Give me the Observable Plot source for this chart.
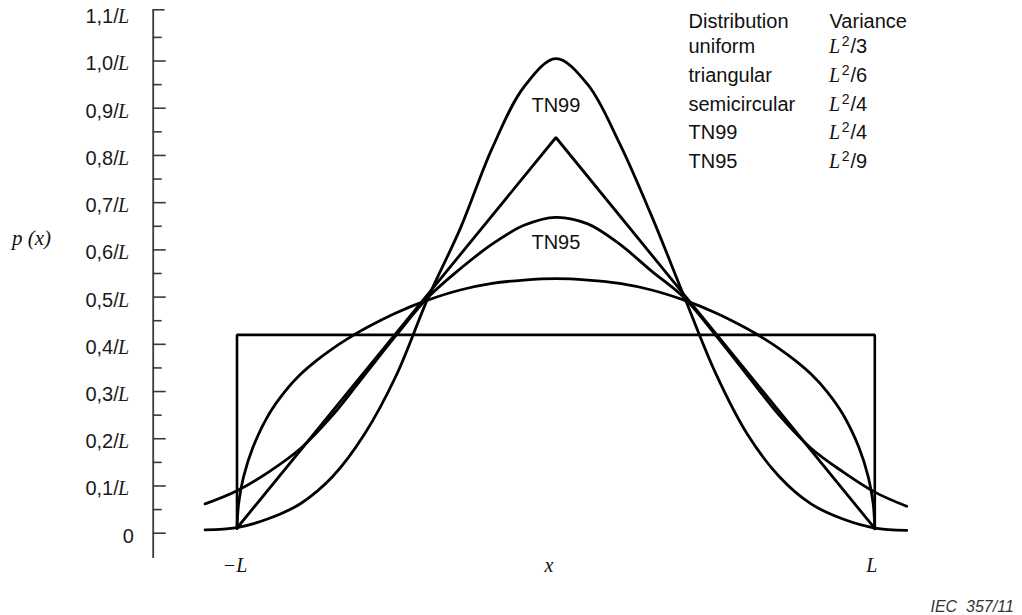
<!DOCTYPE html>
<html>
<head>
<meta charset="utf-8">
<script src="https://cdn.jsdelivr.net/npm/d3@7"></script>
<script src="https://cdn.jsdelivr.net/npm/@observablehq/plot@0.6"></script>
<style>
  html, body { margin: 0; padding: 0; background: #fff; }
  #chart svg { display: block; }
</style>
</head>
<body>
<div id="chart"></div>
<script>
// ---------- data (x in units of L, y in units of 1/L) ----------
const uniformX = [-1, -1, 1, 1];
const uniformY = [0.01, 0.42, 0.42, 0.01];

const triangularX = [-1, 0, 1];
const triangularY = [0.011, 0.838, 0.01];

const semicircularX = [-1, -0.995, -0.98, -0.95, -0.9, -0.85, -0.8, -0.75, -0.7, -0.65, -0.6, -0.5, -0.4, -0.3, -0.2, -0.1, 0,
                       0.1, 0.2, 0.3, 0.4, 0.5, 0.6, 0.65, 0.7, 0.75, 0.8, 0.85, 0.9, 0.95, 0.98, 0.995, 1];
const semicircularY = [0.01, 0.062, 0.118, 0.182, 0.252, 0.3, 0.337, 0.366, 0.391, 0.413, 0.433, 0.467, 0.494, 0.515, 0.529, 0.536, 0.539,
                       0.536, 0.529, 0.515, 0.494, 0.467, 0.433, 0.413, 0.391, 0.366, 0.337, 0.3, 0.252, 0.182, 0.118, 0.062, 0.009];

const tn99X = [-1.1, -1.0, -0.9, -0.8, -0.7, -0.6, -0.5, -0.4, -0.3, -0.2, -0.1, 0,
               0.1, 0.2, 0.3, 0.4, 0.5, 0.6, 0.7, 0.8, 0.9, 1.0, 1.1];
const tn99Y = [0.007, 0.012, 0.031, 0.063, 0.12, 0.21, 0.335, 0.50, 0.645, 0.815, 0.945, 1.005,
               0.95, 0.825, 0.672, 0.505, 0.34, 0.21, 0.12, 0.062, 0.03, 0.011, 0.006];

const tn95X = [-1.1, -1.0, -0.9, -0.8, -0.7, -0.6, -0.5, -0.4, -0.3, -0.2, -0.1, 0,
               0.1, 0.2, 0.3, 0.4, 0.5, 0.6, 0.7, 0.8, 0.9, 1.0, 1.1];
const tn95Y = [0.062, 0.09, 0.13, 0.18, 0.25, 0.335, 0.42, 0.50, 0.56, 0.612, 0.652, 0.669,
               0.655, 0.612, 0.555, 0.50, 0.42, 0.335, 0.25, 0.18, 0.13, 0.087, 0.057];

const yTicks = [0, 0.1, 0.2, 0.3, 0.4, 0.5, 0.6, 0.7, 0.8, 0.9, 1.0, 1.1];
const yTickLabels = ["0", "0,1/L", "0,2/L", "0,3/L", "0,4/L", "0,5/L", "0,6/L", "0,7/L", "0,8/L", "0,9/L", "1,0/L", "1,1/L"];
const yMinorTicks = [0.05, 0.15, 0.25, 0.35, 0.45, 0.55, 0.65, 0.75, 0.85, 0.95, 1.05];

const xTickValues = [-1, 0, 1];
const xTickLabels = ["\u2212L", "x", "L"];

const legendHeader = ["Distribution", "Variance"];
const legendNames = ["uniform", "triangular", "semicircular", "TN99", "TN95"];
const legendDenominators = ["3", "6", "4", "4", "9"];

const curveLabels = ["TN99", "TN95"];
const curveLabelY = [0.905, 0.615];

const yAxisLabel = "p (x)";
const sourceNote = "IEC\u00a0\u00a0357/11";

// ---------- layout helpers (pixel <-> data) ----------
const W = 1022, H = 615;
const X0 = 555.4, PXL = 318.9;     // pixel of x=0, pixels per L
const Y0 = 532.7, PYL = 472.2;     // pixel of y=0, pixels per 1/L
const fx = px => (px - X0) / PXL;
const fy = py => (Y0 - py) / PYL;

const pts = (xs, ys) => xs.map((x, i) => ({x, y: ys[i]}));

const sans = "Liberation Sans, Arial, Helvetica, sans-serif";
const serif = "Liberation Serif, Times New Roman, serif";

const axisU = fx(152.7);
const axisColor = "#3a3a3a";

const rowY = i => fy(46.5 + 28.6 * i);
const xLabelNudgePx = [-2, -7, -3];

const chart = Plot.plot({
  width: W,
  height: H,
  margin: 0,
  x: {domain: [fx(0), fx(W)], axis: null},
  y: {domain: [fy(H), fy(0)], axis: null},
  marks: [
    // y axis line, top cap, ticks
    Plot.ruleX([axisU], {y1: fy(9.3), y2: fy(558), stroke: axisColor, strokeWidth: 1.8}),
    Plot.ruleY([fy(9.3)], {x1: axisU, x2: fx(164.5), stroke: axisColor, strokeWidth: 1.6}),
    Plot.ruleY(yTicks.slice(0, -1), {x1: axisU, x2: fx(165.7), stroke: axisColor, strokeWidth: 1.6}),
    Plot.ruleY(yMinorTicks, {x1: axisU, x2: fx(161.7), stroke: axisColor, strokeWidth: 1.6}),
    // y tick labels: sans part + italic serif L
    Plot.text(yTicks.slice(1), {
      x: fx(118.3), y: d => d, dy: 3,
      text: (d, i) => yTickLabels[i + 1].replace(/L$/, ""),
      textAnchor: "end", fontFamily: sans, fontSize: 20, fill: "#1a1a1a"
    }),
    Plot.text(yTicks.slice(1), {
      x: fx(128.6), y: d => d, dy: 3,
      text: () => "L",
      textAnchor: "end", fontFamily: serif, fontStyle: "italic", fontSize: 20, fill: "#1a1a1a"
    }),
    Plot.text(yTicks.slice(0, 1), {
      x: fx(133.3), y: d => d, dy: 3,
      text: (d, i) => yTickLabels[i],
      textAnchor: "end", fontFamily: sans, fontSize: 20, fill: "#1a1a1a"
    }),
    // y axis title
    Plot.text([yAxisLabel], {
      x: fx(11.5), y: fy(238), text: d => d, textAnchor: "start",
      fontFamily: serif, fontStyle: "italic", fontSize: 21, fill: "#111"
    }),
    // x labels
    Plot.text(xTickValues, {
      x: (d, i) => d + xLabelNudgePx[i] / PXL, y: fy(565.5), text: (d, i) => xTickLabels[i],
      fontFamily: serif, fontStyle: "italic", fontSize: 20, fill: "#111"
    }),
    // distributions
    Plot.line(pts(uniformX, uniformY), {x: "x", y: "y", stroke: "#000", strokeWidth: 2.6, strokeLinejoin: "miter"}),
    Plot.line(pts(triangularX, triangularY), {x: "x", y: "y", stroke: "#000", strokeWidth: 2.8, strokeLinejoin: "miter"}),
    Plot.line(pts(semicircularX, semicircularY), {x: "x", y: "y", curve: "catmull-rom", stroke: "#000", strokeWidth: 2.8}),
    Plot.line(pts(tn99X, tn99Y), {x: "x", y: "y", curve: "catmull-rom", stroke: "#000", strokeWidth: 2.8}),
    Plot.line(pts(tn95X, tn95Y), {x: "x", y: "y", curve: "catmull-rom", stroke: "#000", strokeWidth: 2.8}),
    // curve labels
    Plot.text(curveLabels, {
      x: 0, y: (d, i) => curveLabelY[i], text: d => d,
      fontFamily: sans, fontSize: 20, fill: "#111"
    }),
    // legend
    Plot.text(legendHeader, {
      x: (d, i) => fx(i === 0 ? 688 : 829), y: fy(20.7), text: d => d, textAnchor: "start",
      fontFamily: sans, fontSize: 20, fill: "#111"
    }),
    Plot.text(legendNames, {
      x: fx(688), y: (d, i) => rowY(i), text: d => d, textAnchor: "start",
      fontFamily: sans, fontSize: 20, fill: "#111"
    }),
    Plot.text(legendNames, {
      x: fx(828.5), y: (d, i) => rowY(i), text: () => "L", textAnchor: "start",
      fontFamily: serif, fontStyle: "italic", fontSize: 20, fill: "#111"
    }),
    Plot.text(legendNames, {
      x: fx(841.3), y: (d, i) => rowY(i), dy: -5, text: () => "2", textAnchor: "start",
      fontFamily: sans, fontSize: 14, fill: "#111"
    }),
    Plot.text(legendDenominators, {
      x: fx(850), y: (d, i) => rowY(i), text: d => "/" + d, textAnchor: "start",
      fontFamily: sans, fontSize: 20, fill: "#111"
    }),
    // source note
    Plot.text([sourceNote], {
      x: fx(930), y: fy(606), text: d => d, textAnchor: "start",
      fontFamily: sans, fontStyle: "italic", fontSize: 16, fill: "#333"
    })
  ]
});

document.getElementById("chart").appendChild(chart);
</script>
</body>
</html>
